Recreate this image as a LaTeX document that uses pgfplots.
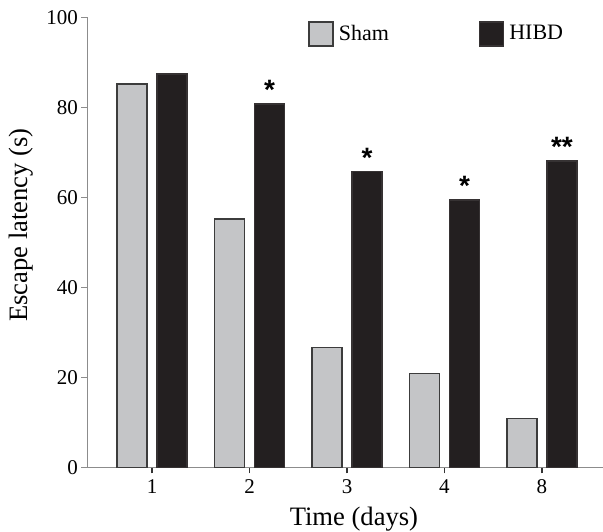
\documentclass[border=0pt]{standalone}
\usepackage{fontspec}
\setmainfont{Liberation Serif}
\newfontfamily\starfont{Liberation Sans}
\usepackage{pgfplots}
\pgfplotsset{compat=1.18}
\definecolor{shamfill}{HTML}{C4C5C7}
\definecolor{shamedge}{HTML}{3C3C3C}
\definecolor{hibdfill}{HTML}{231F20}
\definecolor{axisgray}{HTML}{8C8C8C}
\begin{document}
\begin{tikzpicture}[font=\rmfamily]
\begin{axis}[
  scale only axis,
  width=257.85pt, height=225pt,
  xmin=0.336, xmax=5.626,
  ymin=0, ymax=100,
  axis lines=left,
  axis line style={-, draw=axisgray, line width=0.6pt},
  ytick={0,20,40,60,80,100},
  xtick={1,2,3,4,5},
  xticklabels={1,2,3,4,8},
  tick align=outside,
  major tick length=3pt,
  tick style={draw=axisgray, line width=0.6pt},
  xtick style={draw=black!80},
  /pgf/number format/assume math mode=true,
  ticklabel style={font=\rmfamily\fontsize{10.5}{12}\selectfont},
  yticklabel style={inner xsep=1.5pt},
  xticklabel style={inner ysep=3pt},
  label style={font=\rmfamily\fontsize{13.3}{15}\selectfont},
  xlabel={Time (days)},
  ylabel={Escape latency (s)},
  xlabel style={at={(axis description cs:0.517,0)}, anchor=base, yshift=-28.85pt},
  ylabel style={at={(axis description cs:-0.128,0.538)}, anchor=center},
  ybar=5pt,
  bar width=15pt,
  legend columns=2,
  legend style={at={(rel axis cs:0.428,0.963)}, anchor=west, draw=none, fill=none,
    inner sep=0pt, font=\rmfamily\fontsize{11}{13}\selectfont,
    nodes={inner xsep=2.5pt, inner ysep=0pt},
    /tikz/every even column/.append style={column sep=42.5pt}},
  legend image code/.code={\draw[#1, line width=0.7pt] (0pt,-6pt) rectangle (12pt,6pt);},
  clip=false,
]
\addplot[fill=shamfill, draw=shamedge, line width=0.7pt] coordinates {(1,85.2) (2,55.2) (3,26.6) (4,20.9) (5,10.9)};
\addplot[fill=hibdfill, draw=hibdfill!80!gray, line width=0.7pt] coordinates {(1,87.4) (2,80.7) (3,65.7) (4,59.4) (5,68.1)};
\legend{Sham,HIBD}
\coordinate (bl) at (rel axis cs:0,0);
\coordinate (tr) at (rel axis cs:1,1);
\node[font=\starfont\bfseries\fontsize{14}{14}\selectfont, inner sep=0pt] at ([xshift=10pt, yshift=-1.5pt]axis cs:2,84.5) {*};
\node[font=\starfont\bfseries\fontsize{14}{14}\selectfont, inner sep=0pt] at ([xshift=10pt, yshift=-1.5pt]axis cs:3,69.5) {*};
\node[font=\starfont\bfseries\fontsize{14}{14}\selectfont, inner sep=0pt] at ([xshift=10pt, yshift=-1.5pt]axis cs:4,63.2) {*};
\node[font=\starfont\bfseries\fontsize{14}{14}\selectfont, inner sep=0pt] at ([xshift=10pt, yshift=-1.5pt]axis cs:5,71.9) {**};
\end{axis}
\pgfresetboundingbox
\useasboundingbox ([xshift=-43.65pt, yshift=-31.85pt]bl) rectangle ([yshift=8.65pt]tr);
\end{tikzpicture}
\end{document}
